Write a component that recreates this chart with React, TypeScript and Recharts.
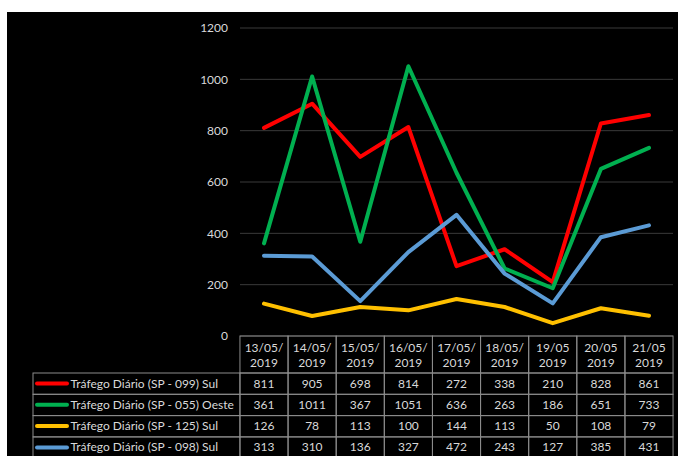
import React from 'react';
import { LineChart, Line, XAxis, YAxis, CartesianGrid } from 'recharts';

const dates = ['13/05/2019', '14/05/2019', '15/05/2019', '16/05/2019', '17/05/2019', '18/05/2019', '19/05/2019', '20/05/2019', '21/05/2019'];
const headerTop = ['13/05/', '14/05/', '15/05/', '16/05/', '17/05/', '18/05/', '19/05', '20/05', '21/05'];
const headerBottom = ['2019', '2019', '2019', '2019', '2019', '2019', '2019', '2019', '2019'];

const sp099 = [811, 905, 698, 814, 272, 338, 210, 828, 861];
const sp055 = [361, 1011, 367, 1051, 636, 263, 186, 651, 733];
const sp125 = [126, 78, 113, 100, 144, 113, 50, 108, 79];
const sp098 = [313, 310, 136, 327, 472, 243, 127, 385, 431];

const yTicks = [0, 200, 400, 600, 800, 1000, 1200];

const series = [
  { key: 'sp099', name: 'Tráfego Diário (SP - 099) Sul', color: '#ff0000', values: sp099 },
  { key: 'sp055', name: 'Tráfego Diário (SP - 055) Oeste', color: '#00b050', values: sp055 },
  { key: 'sp125', name: 'Tráfego Diário (SP - 125) Sul', color: '#ffc000', values: sp125 },
  { key: 'sp098', name: 'Tráfego Diário (SP - 098) Sul', color: '#5b9bd5', values: sp098 },
];

const data = dates.map((d, i) => {
  const row: Record<string, string | number> = { date: d };
  series.forEach((s) => {
    row[s.key] = s.values[i];
  });
  return row;
});

const FONT = 'Lato, Carlito, Calibri, sans-serif';
const TEXT = '#d9d9d9';
const BORDER = '#8c8c8c';
const FS = 12;
const COL_W = 48.1;
const HEAD_H = 37;
const ROW_H = 21.3;
const LEGEND_LEFT = 33;

// one column of the data table under each category
const TableColumn = (props: any) => {
  const { x, y, payload } = props;
  const i = dates.indexOf(payload.value);
  if (i < 0) return null;
  const left = x - COL_W / 2;
  const cells = [];

  cells.push(
    <g key="head">
      <rect x={left} y={y} width={COL_W} height={HEAD_H} fill="none" stroke={BORDER} />
      <text x={x} y={y + 15.5} textAnchor="middle" fill={TEXT} fontSize={FS} fontFamily={FONT}>
        {headerTop[i]}
      </text>
      <text x={x} y={y + 30.5} textAnchor="middle" fill={TEXT} fontSize={FS} fontFamily={FONT}>
        {headerBottom[i]}
      </text>
    </g>
  );

  series.forEach((s, r) => {
    const top = y + HEAD_H + r * ROW_H;
    cells.push(
      <g key={s.key}>
        <rect x={left} y={top} width={COL_W} height={ROW_H} fill="none" stroke={BORDER} />
        <text x={x} y={top + 14.5} textAnchor="middle" fill={TEXT} fontSize={FS} fontFamily={FONT}>
          {s.values[i]}
        </text>
      </g>
    );
    if (i === 0) {
      cells.push(
        <g key={s.key + '-legend'}>
          <rect x={LEGEND_LEFT} y={top} width={left - LEGEND_LEFT} height={ROW_H} fill="none" stroke={BORDER} />
          <line x1={LEGEND_LEFT + 4} x2={LEGEND_LEFT + 34} y1={top + 10.5} y2={top + 10.5} stroke={s.color} strokeWidth={4} strokeLinecap="round" />
          <text x={LEGEND_LEFT + 37.5} y={top + 14.5} fill={TEXT} fontSize={FS} fontFamily={FONT}>
            {s.name}
          </text>
        </g>
      );
    }
  });

  return <g>{cells}</g>;
};

export default function App() {
  return (
    <div style={{ position: 'absolute', left: 0, top: 0, width: 678, height: 456, background: '#fff', overflow: 'hidden' }}>
      <div style={{ position: 'absolute', left: 7, top: 12, width: 671, height: 444, background: '#000' }} />
      <div style={{ position: 'absolute', left: 0, top: 0 }}>
        <LineChart width={678} height={456} data={data} margin={{ top: 28, right: 5, bottom: 0, left: 0 }}>
          <CartesianGrid vertical={false} stroke="#3a3a3a" strokeWidth={1} />
          <XAxis
            dataKey="date"
            height={120}
            axisLine={false}
            tickLine={false}
            tickSize={0}
            tickMargin={0}
            interval={0}
            padding={{ left: 24, right: 24 }}
            tick={<TableColumn />}
          />
          <YAxis
            width={240}
            domain={[0, 1200]}
            ticks={yTicks}
            axisLine={false}
            tickLine={false}
            tickSize={0}
            tickMargin={12}
            tick={{ fill: TEXT, fontSize: FS, fontFamily: FONT }}
          />
          {series.map((s) => (
            <Line
              key={s.key}
              type="linear"
              dataKey={s.key}
              name={s.name}
              stroke={s.color}
              strokeWidth={4}
              strokeLinecap="round"
              strokeLinejoin="round"
              dot={false}
              activeDot={false}
              isAnimationActive={false}
            />
          ))}
        </LineChart>
      </div>
    </div>
  );
}
